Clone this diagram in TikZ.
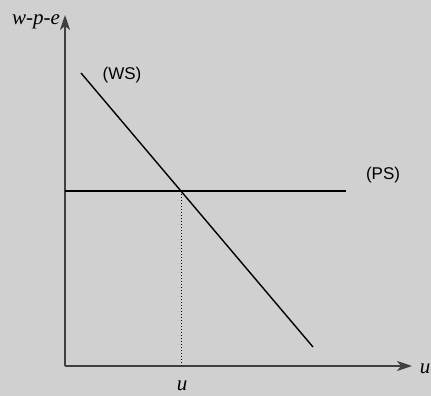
\documentclass[tikz,border=0pt]{standalone}
\usepackage{fontspec}
\setmainfont{Liberation Serif}
\setsansfont{Liberation Sans}
\usepackage{xcolor}
\usetikzlibrary{arrows.meta, positioning, calc}
\definecolor{bggray}{RGB}{208,208,208}
\definecolor{axisgray}{RGB}{64,64,64}

\begin{document}
\begin{tikzpicture}[
  x=1pt, y=-1pt,
  axis/.style={draw=axisgray, line width=1.8pt, -{Stealth[length=15pt, width=10pt, inset=4pt]}},
  curve/.style={draw=black, line width=1.4pt},
  guide/.style={draw=black, line width=1pt, dotted},
  varlabel/.style={font=\fontsize{21}{24}\selectfont\itshape, inner sep=0pt},
  curvelabel/.style={font=\sffamily\fontsize{17}{20}\selectfont, inner sep=0pt}
]
% background
\fill[bggray] (0,0) rectangle (431,396);
\useasboundingbox (0,0) rectangle (431,396);

% Axes
\coordinate (origin) at (65,366);
\coordinate (ytop) at (65,15);
\coordinate (xend) at (412,366);
\draw[axis] (origin) -- (ytop);
\draw[axis] (origin) -- (xend);

% Curves
\coordinate (ws1) at (81,73);
\coordinate (ws2) at (313,347);
\coordinate (ps1) at (65,191);
\coordinate (ps2) at (346,191);
\coordinate (eq) at (181,191);
\coordinate (eqbase) at (181,366);
\draw[curve] (ws1) -- (ws2);
\draw[curve] (ps1) -- (ps2);
\draw[guide] (eq) -- (eqbase);

% Labels
\node[varlabel] (ylab) at (36,22) {w-p-e};
\node[varlabel] (xlab) at (425,369) {u};
\node[varlabel] (ulab) at (182,386) {u};
\node[curvelabel] (wslab) at (122,75) {(WS)};
\node[curvelabel] (pslab) at (383,175) {(PS)};
\end{tikzpicture}
\end{document}
